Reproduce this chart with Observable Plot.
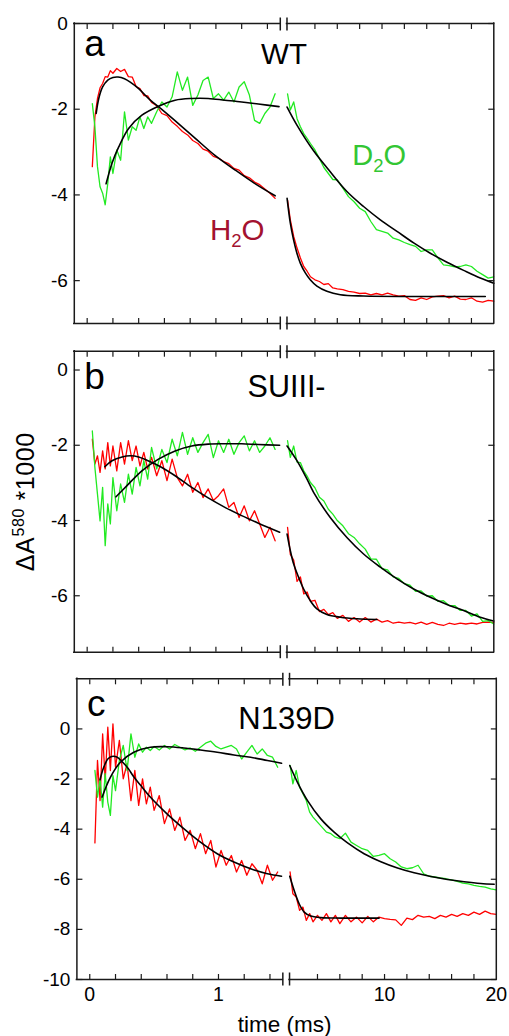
<!DOCTYPE html>
<html><head><meta charset="utf-8">
<script src="https://cdn.jsdelivr.net/npm/d3@7"></script>
<script src="https://cdn.jsdelivr.net/npm/@observablehq/plot@0.6"></script>
<style>
body{margin:0;background:#fff;}
#chart{width:509px;height:1036px;overflow:hidden;}
#chart svg{display:block;}
</style></head><body><div id="chart"></div>
<script>
// ---------- data (time in ms, ΔA580*1000) ----------
const BREAK = 1.5;                 // axis break: 0–1.5 ms | 1.5–20 ms
const X_MIN = -0.1, X_MAX = 20;
const X_TICKS_L = [0, 0.2, 0.4, 0.6, 0.8, 1, 1.2, 1.4];
const X_TICKS_R = [4, 6, 8, 10, 12, 14, 16, 18];
const X_LABELS_L = [0, 1];
const X_LABELS_R = [10, 20];
const Y_TICKS_A = [0, -2, -4, -6];
const Y_TICKS_B = [0, -2, -4, -6];
const Y_TICKS_C = [0, -2, -4, -6, -8, -10];
const PANELS = ["a", "b", "c"];
const TITLES = ["WT", "SUIII-", "N139D"];

const LEFT_T = [0.04,0.06,0.08,0.10,0.12,0.14,0.16,0.18,0.20,0.23,0.26,0.29,0.32,0.35,0.38,0.41,0.44,0.47,0.50,0.54,0.58,0.62,0.66,0.70,0.74,0.78,0.82,0.86,0.90,0.94,0.98,1.02,1.06,1.10,1.14,1.18,1.22,1.26,1.30,1.34,1.38,1.42,1.46];
const RIGHT_T = [1.55,1.8,2.1,2.4,2.7,3.0,3.3,3.6,4.0,4.4,4.8,5.2,5.6,6.0,6.5,7.0,7.5,8.0,8.5,9.0,9.5,10,10.5,11,11.5,12,12.5,13,13.5,14,14.5,15,15.5,16,16.5,17,17.5,18,18.5,19,19.5,20];

// Panel a (WT)
const A_H2O_L = [-3.34,-2.18,-1.75,-1.50,-1.40,-1.24,-1.25,-1.10,-1.16,-1.05,-1.12,-1.07,-1.24,-1.25,-1.47,-1.52,-1.68,-1.69,-1.84,-1.92,-2.10,-2.15,-2.30,-2.40,-2.52,-2.60,-2.73,-2.80,-2.93,-2.98,-3.10,-3.14,-3.22,-3.27,-3.38,-3.42,-3.55,-3.60,-3.70,-3.76,-3.86,-3.96,-4.08];
const A_D2O_L = [-1.87,-2.41,-3.34,-3.81,-3.96,-4.23,-3.73,-3.11,-3.50,-2.95,-3.19,-2.06,-2.72,-2.41,-2.49,-2.18,-2.45,-2.18,-2.33,-2.06,-1.83,-1.95,-1.71,-1.13,-1.56,-1.25,-1.91,-1.67,-1.33,-1.25,-1.75,-1.64,-1.79,-1.60,-1.83,-1.48,-1.36,-1.67,-2.26,-2.33,-2.10,-1.95,-1.64];
const A_H2O_R = [-4.12,-4.58,-4.97,-5.24,-5.47,-5.67,-5.78,-5.91,-5.98,-6.02,-6.09,-6.07,-6.17,-6.19,-6.21,-6.25,-6.27,-6.30,-6.29,-6.33,-6.30,-6.33,-6.29,-6.33,-6.36,-6.35,-6.44,-6.46,-6.40,-6.44,-6.38,-6.36,-6.35,-6.40,-6.36,-6.43,-6.44,-6.40,-6.48,-6.50,-6.46,-6.48];
const A_D2O_R = [-1.64,-2.02,-1.83,-2.22,-2.41,-2.57,-2.68,-2.80,-2.95,-3.15,-3.36,-3.50,-3.64,-3.65,-3.84,-4.04,-4.16,-4.31,-4.39,-4.62,-4.81,-4.85,-4.89,-5.01,-5.05,-5.11,-5.16,-5.20,-5.32,-5.28,-5.28,-5.47,-5.63,-5.65,-5.68,-5.67,-5.63,-5.67,-5.78,-5.86,-5.94,-5.91];
const A_H2O_FIT_L = [[0.07,-2.1],[0.09,-1.75],[0.12,-1.48],[0.16,-1.32],[0.20,-1.26],[0.24,-1.25],[0.29,-1.29],[0.34,-1.38],[0.40,-1.52],[0.49,-1.79],[0.57,-1.98],[0.68,-2.26],[0.84,-2.68],[0.99,-3.07],[1.15,-3.42],[1.30,-3.73],[1.46,-4.02]];
const A_D2O_FIT_L = [[0.147,-3.74],[0.193,-3.26],[0.245,-2.88],[0.322,-2.45],[0.425,-2.14],[0.554,-1.93],[0.683,-1.79],[0.81,-1.75],[0.94,-1.75],[1.07,-1.79],[1.2,-1.83],[1.33,-1.88],[1.49,-1.94]];
const A_H2O_FIT_R = [[1.51,-4.08],[1.80,-4.66],[2.09,-5.05],[2.39,-5.36],[2.69,-5.59],[3.14,-5.82],[3.58,-5.98],[4.18,-6.13],[5.07,-6.25],[6.27,-6.33],[8.35,-6.36],[12.83,-6.37],[19.24,-6.37]];
const A_D2O_FIT_R = [[1.51,-1.95],[2.39,-2.37],[3.88,-2.97],[5.37,-3.46],[6.86,-3.92],[8.35,-4.27],[9.85,-4.58],[11.34,-4.85],[12.83,-5.12],[14.32,-5.36],[15.81,-5.57],[17.3,-5.76],[18.79,-5.94],[20,-6.06]];

// Panel b (SUIII-)
const B_H2O_L = [-1.84,-2.50,-2.28,-2.72,-2.15,-2.63,-1.93,-2.55,-2.02,-2.68,-1.93,-2.50,-1.88,-2.41,-2.02,-2.55,-2.19,-2.63,-2.32,-2.81,-2.41,-2.94,-2.37,-2.86,-3.08,-2.77,-3.25,-2.99,-3.39,-3.16,-3.47,-3.34,-3.16,-3.65,-3.52,-3.92,-3.61,-4.01,-3.74,-4.09,-4.45,-4.18,-4.54];
const B_D2O_L = [-1.62,-2.59,-3.30,-4.01,-3.12,-4.67,-3.56,-4.09,-2.86,-3.74,-3.03,-3.52,-2.77,-3.30,-2.59,-3.08,-2.41,-2.90,-2.06,-2.63,-2.11,-2.46,-1.84,-2.28,-1.66,-2.24,-1.80,-2.19,-1.93,-1.71,-2.33,-1.88,-2.19,-1.84,-2.24,-1.93,-1.75,-2.15,-1.88,-2.19,-2.02,-1.80,-2.11];
const B_H2O_R = [-4.18,-4.90,-5.05,-5.62,-5.50,-5.95,-5.90,-6.15,-6.12,-6.42,-6.36,-6.50,-6.45,-6.60,-6.52,-6.68,-6.58,-6.70,-6.58,-6.70,-6.62,-6.70,-6.66,-6.73,-6.70,-6.73,-6.71,-6.75,-6.70,-6.76,-6.71,-6.76,-6.79,-6.73,-6.76,-6.73,-6.75,-6.73,-6.75,-6.71,-6.70,-6.71];
const B_D2O_R = [-1.88,-2.32,-2.02,-2.45,-2.46,-2.68,-2.82,-2.99,-3.13,-3.38,-3.48,-3.70,-3.83,-4.00,-4.14,-4.35,-4.45,-4.62,-4.76,-5.02,-5.03,-5.28,-5.31,-5.50,-5.54,-5.68,-5.72,-5.88,-5.87,-6.01,-6.00,-6.15,-6.13,-6.26,-6.26,-6.39,-6.39,-6.54,-6.48,-6.68,-6.66,-6.75];
const B_H2O_FIT_L = [[0.137,-2.57],[0.193,-2.41],[0.271,-2.31],[0.335,-2.28],[0.40,-2.31],[0.464,-2.40],[0.58,-2.59],[0.683,-2.81],[0.812,-3.12],[0.94,-3.40],[1.07,-3.65],[1.20,-3.87],[1.33,-4.07],[1.495,-4.31]];
const B_D2O_FIT_L = [[0.224,-3.37],[0.296,-3.12],[0.425,-2.68],[0.554,-2.37],[0.683,-2.15],[0.812,-2.02],[0.94,-1.97],[1.07,-1.96],[1.2,-1.96],[1.33,-1.98],[1.495,-2.0]];
const B_H2O_FIT_R = [[1.51,-4.36],[1.80,-4.80],[2.09,-5.15],[2.54,-5.51],[2.99,-5.82],[3.58,-6.13],[4.18,-6.35],[5.07,-6.50],[6.27,-6.57],[7.76,-6.61],[9.55,-6.63]];
const B_D2O_FIT_R = [[1.51,-2.02],[2.39,-2.41],[3.29,-2.90],[3.88,-3.25],[5.37,-3.92],[6.86,-4.45],[8.35,-4.89],[9.85,-5.24],[11.34,-5.55],[12.83,-5.82],[14.32,-6.04],[15.81,-6.23],[17.3,-6.39],[18.79,-6.57],[20,-6.67]];

// Panel c (N139D)
const C_H2O_L = [-4.55,-1.26,-2.86,-0.20,-2.06,0.07,-1.66,0.20,-1.53,-0.46,-1.99,-1.39,-2.86,-1.66,-3.05,-1.99,-2.99,-2.32,-3.25,-2.66,-3.78,-3.19,-4.05,-3.52,-4.45,-4.05,-4.78,-4.18,-4.98,-4.45,-5.51,-4.85,-5.44,-5.05,-5.71,-5.25,-5.84,-5.38,-5.64,-6.18,-5.44,-6.04,-5.71];
const C_D2O_L = [-1.66,-2.72,-1.99,-3.12,-1.79,-2.92,-3.45,-1.86,-2.46,-1.26,-0.66,-1.66,-0.20,-1.13,-0.60,-0.93,-0.73,-0.86,-0.70,-0.84,-0.66,-0.80,-0.62,-0.73,-0.84,-0.76,-0.89,-0.73,-0.57,-0.49,-0.70,-0.80,-0.73,-0.66,-0.80,-1.20,-0.93,-0.66,-1.00,-0.80,-1.06,-1.13,-1.53];
const C_H2O_R = [-5.71,-6.58,-6.71,-7.24,-7.11,-7.64,-7.37,-7.70,-7.44,-7.64,-7.37,-7.70,-7.44,-7.77,-7.44,-7.70,-7.51,-7.74,-7.48,-7.70,-7.51,-7.57,-7.60,-7.62,-7.84,-7.55,-7.61,-7.44,-7.51,-7.48,-7.57,-7.44,-7.51,-7.40,-7.48,-7.37,-7.44,-7.31,-7.40,-7.27,-7.37,-7.40];
const C_D2O_R = [-1.46,-2.19,-1.66,-2.33,-2.59,-2.86,-3.32,-3.52,-3.72,-3.92,-4.12,-4.18,-4.32,-4.38,-4.16,-4.52,-4.65,-4.78,-4.85,-5.09,-5.05,-4.98,-5.18,-5.31,-5.51,-5.58,-5.54,-5.44,-5.78,-5.88,-5.91,-5.95,-5.98,-6.02,-6.08,-6.15,-6.18,-6.24,-6.28,-6.31,-6.38,-6.42];
const C_H2O_FIT_L = [[0.08,-2.03],[0.10,-1.65],[0.12,-1.39],[0.14,-1.2],[0.17,-1.1],[0.21,-1.12],[0.25,-1.3],[0.30,-1.59],[0.34,-1.9],[0.40,-2.28],[0.47,-2.72],[0.60,-3.39],[0.73,-3.98],[0.86,-4.52],[0.99,-4.98],[1.12,-5.31],[1.25,-5.58],[1.38,-5.78],[1.49,-5.88]];
const C_D2O_FIT_L = [[0.096,-2.72],[0.16,-1.93],[0.238,-1.33],[0.342,-0.93],[0.471,-0.73],[0.60,-0.71],[0.73,-0.76],[0.86,-0.84],[0.99,-0.93],[1.12,-1.04],[1.25,-1.13],[1.38,-1.26],[1.49,-1.37]];
const C_H2O_FIT_R = [[1.52,-5.88],[1.91,-6.44],[2.36,-6.98],[2.81,-7.31],[3.40,-7.47],[4.30,-7.53],[6.09,-7.55],[9.52,-7.55]];
const C_D2O_FIT_R = [[1.52,-1.46],[2.21,-2.13],[3.11,-2.86],[4.30,-3.59],[5.49,-4.12],[6.69,-4.55],[8.17,-4.98],[9.67,-5.30],[11.16,-5.55],[12.65,-5.74],[14.14,-5.89],[15.63,-6.01],[17.12,-6.10],[18.61,-6.17],[19.81,-6.20]];

// ---------- broken time axis: two linear segments on one x scale ----------
const LEFT_PX = 128.75, RIGHT_PX = 11.18, GAP_PX = 6.7;   // px per ms (left, right), gap width
const K = RIGHT_PX / LEFT_PX, GAP = GAP_PX / LEFT_PX;
const warpL = t => t;
const warpR = t => BREAK + GAP + (t - BREAK) * K;

// ---------- styling ----------
const RED = "#ff0000", GREEN = "#22ea22", FIT = "#000000", FRAME = "#1a1a1a";
const FONT = "'Liberation Sans', Arial, Helvetica, sans-serif";
const DW = 1.3, FW = 1.6;

const rows = (T, V) => T.map((t, i) => ({t, v: V[i]}));
const pairs = P => P.map(([t, v]) => ({t, v}));
const xL = d => warpL(d.t), xR = d => warpR(d.t);
const labelOf = new Map([...X_LABELS_L.map(t => [warpL(t), String(t)]), ...X_LABELS_R.map(t => [warpR(t), String(t)])]);

function panel(c) {
  const [y0, y1] = c.yDomain;
  const fs = {stroke: FRAME, strokeWidth: 1.5, strokeLinecap: "square"};
  const tk = {fill: "none", stroke: FRAME, strokeWidth: 1.2, label: null};
  const xTicks = [...X_TICKS_L.map(warpL), ...X_TICKS_R.map(warpR)];
  const breaks = [warpL(BREAK), warpR(BREAK)];
  const marks = [
    Plot.line(rows(LEFT_T, c.h2oL), {x: xL, y: "v", stroke: RED, strokeWidth: DW}),
    Plot.line(rows(RIGHT_T, c.h2oR), {x: xR, y: "v", stroke: RED, strokeWidth: DW}),
    Plot.line(rows(LEFT_T, c.d2oL), {x: xL, y: "v", stroke: GREEN, strokeWidth: DW}),
    Plot.line(rows(RIGHT_T, c.d2oR), {x: xR, y: "v", stroke: GREEN, strokeWidth: DW}),
    Plot.line(pairs(c.fitsL[0]), {x: xL, y: "v", stroke: FIT, strokeWidth: FW, curve: "catmull-rom"}),
    Plot.line(pairs(c.fitsL[1]), {x: xL, y: "v", stroke: FIT, strokeWidth: FW, curve: "catmull-rom"}),
    Plot.line(pairs(c.fitsR[0]), {x: xR, y: "v", stroke: FIT, strokeWidth: FW, curve: "catmull-rom"}),
    Plot.line(pairs(c.fitsR[1]), {x: xR, y: "v", stroke: FIT, strokeWidth: FW, curve: "catmull-rom"}),
    // frame (broken at the axis break)
    Plot.ruleY([y1, y0], {x1: warpL(X_MIN), x2: warpL(BREAK), ...fs}),
    Plot.ruleY([y1, y0], {x1: warpR(BREAK), x2: warpR(X_MAX), ...fs}),
    Plot.ruleX([warpL(X_MIN), warpR(X_MAX)], fs),
    // inward ticks on all four sides
    Plot.axisX({anchor: "bottom", ticks: xTicks, tickSize: 5, dy: -5, ...tk}),
    Plot.axisX({anchor: "top", ticks: xTicks, tickSize: 5, dy: 5, ...tk}),
    Plot.axisY({anchor: "left", ticks: c.yTicks, tickSize: 6, dx: 6, ...tk}),
    Plot.axisY({anchor: "right", ticks: c.yTicks, tickSize: 6, dx: -6, ...tk}),
    // break marks
    Plot.axisX({anchor: "top", ticks: breaks, tickSize: 13, dy: 6.5, ...tk, strokeWidth: 1.5}),
    Plot.axisX({anchor: "bottom", ticks: breaks, tickSize: 13, dy: -6.5, ...tk, strokeWidth: 1.5}),
    // y tick labels
    Plot.axisY({anchor: "left", ticks: c.yTicks, tickSize: 0, tickPadding: 6.5, tickFormat: d => String(d), fontSize: 19, label: null}),
    // panel letter and title
    Plot.text([c.letter], {text: d => d, frameAnchor: "top-left", dx: 10, dy: c.letterDy, lineAnchor: "bottom", textAnchor: "start", fontSize: 37}),
    Plot.text([c.title], {text: d => d, frameAnchor: "top", dx: c.titleDx, dy: c.titleDy, lineAnchor: "bottom", textAnchor: "middle", fontSize: c.titleSize})
  ];
  if (c.extra) marks.push(...c.extra);
  return Plot.plot({
    width: 509, height: c.height,
    marginTop: c.mt, marginBottom: c.mb, marginLeft: c.left, marginRight: 509 - c.right,
    x: {domain: [warpL(X_MIN), warpR(X_MAX)], range: [c.left, c.right], label: null},
    y: {domain: c.yDomain, label: null},
    style: {fontFamily: FONT, background: "#fff", color: "#000", overflow: "visible"},
    marks
  });
}

const svgA = panel({
  height: 337, mt: 23, mb: 14, yDomain: [-7, 0], yTicks: Y_TICKS_A, left: 73.8, right: 493.3,
  h2oL: A_H2O_L, d2oL: A_D2O_L, h2oR: A_H2O_R, d2oR: A_D2O_R,
  fitsL: [A_H2O_FIT_L, A_D2O_FIT_L], fitsR: [A_H2O_FIT_R, A_D2O_FIT_R],
  letter: PANELS[0], title: TITLES[0], letterDy: 32, titleDx: 0, titleDy: 40.5, titleSize: 29.5,
  extra: [
    Plot.text([{t: 7.34, v: -3.30, s: "D2O"}], {x: xR, y: "v", text: "s", textAnchor: "start", lineAnchor: "bottom", fontSize: 29, fill: "#33c633"}),
    Plot.text([{t: 0.954, v: -5.05, s: "H2O"}], {x: xL, y: "v", text: "s", textAnchor: "start", lineAnchor: "bottom", fontSize: 29.5, fill: "#a3122f"})
  ]
});
const svgB = panel({
  height: 328, mt: 13.7, mb: 13.3, yDomain: [-7.5, 0.5], yTicks: Y_TICKS_B, left: 73.8, right: 493.3,
  h2oL: B_H2O_L, d2oL: B_D2O_L, h2oR: B_H2O_R, d2oR: B_D2O_R,
  fitsL: [B_H2O_FIT_L, B_D2O_FIT_L], fitsR: [B_H2O_FIT_R, B_D2O_FIT_R],
  letter: PANELS[1], title: TITLES[1], letterDy: 37.5, titleDx: 2.5, titleDy: 46, titleSize: 30.5,
  extra: [
    Plot.text(["ΔA580 *1000"], {text: d => d, frameAnchor: "left", dx: -48, rotate: -90, textAnchor: "middle", lineAnchor: "middle", fontSize: 25, letterSpacing: 0.6})
  ]
});
const svgC = panel({
  height: 371, mt: 13.3, mb: 57, yDomain: [-10, 2], yTicks: Y_TICKS_C, left: 76.4, right: 495.8,
  h2oL: C_H2O_L, d2oL: C_D2O_L, h2oR: C_H2O_R, d2oR: C_D2O_R,
  fitsL: [C_H2O_FIT_L, C_D2O_FIT_L], fitsR: [C_H2O_FIT_R, C_D2O_FIT_R],
  letter: PANELS[2], title: TITLES[2], letterDy: 37, titleDx: 0, titleDy: 50, titleSize: 31,
  extra: [
    Plot.axisX({anchor: "bottom", ticks: [...labelOf.keys()], tickSize: 0, tickPadding: 8, tickFormat: u => labelOf.get(u), fontSize: 19.5, label: null}),
    Plot.text(["time (ms)"], {text: d => d, frameAnchor: "bottom", dx: -2, dy: 52, lineAnchor: "bottom", textAnchor: "middle", fontSize: 22.5})
  ]
});

const chart = document.getElementById("chart");
[svgA, svgB, svgC].forEach(s => chart.appendChild(s));

// sub/superscripts as real text
d3.select(chart).selectAll("text").each(function () {
  const s = this.textContent;
  const sel = d3.select(this);
  if (s === "D2O" || s === "H2O") {
    sel.text(null);
    sel.append("tspan").text(s[0]);
    sel.append("tspan").attr("font-size", 18.5).attr("dy", 7).text("2");
    sel.append("tspan").attr("dy", -7).text("O");
  } else if (s === "ΔA580 *1000") {
    sel.text(null).attr("letter-spacing", 0.6);
    sel.append("tspan").text("ΔA");
    sel.append("tspan").attr("font-size", 16).attr("dy", -10).text("580");
    sel.append("tspan").attr("dy", 10).text(" *1000");
  }
});
</script>
</body></html>
